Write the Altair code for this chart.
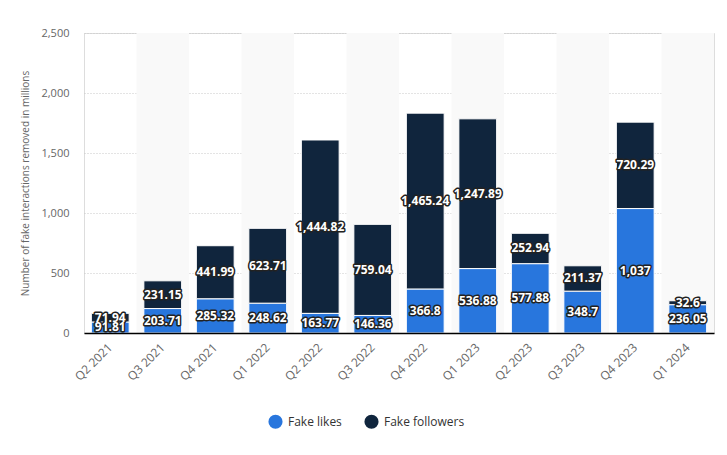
import altair as alt
import pandas as pd

quarters = ["Q2 2021", "Q3 2021", "Q4 2021", "Q1 2022", "Q2 2022", "Q3 2022",
            "Q4 2022", "Q1 2023", "Q2 2023", "Q3 2023", "Q4 2023", "Q1 2024"]
likes = [91.81, 203.71, 285.32, 248.62, 163.77, 146.36, 366.8, 536.88, 577.88, 348.7, 1037, 236.05]
followers = [71.94, 231.15, 441.99, 623.71, 1444.82, 759.04, 1465.24, 1247.89, 252.94, 211.37, 720.29, 32.6]
series = ["Fake likes", "Fake followers"]
colors = ["#2876dd", "#10253d"]

rows = []
for q, l, f in zip(quarters, likes, followers):
    rows.append({"quarter": q, "series": series[0], "value": l, "ord": 0})
    rows.append({"quarter": q, "series": series[1], "value": f, "ord": 1})
df = pd.DataFrame(rows)
bg = pd.DataFrame({"quarter": quarters[1::2]})

FONT = "Open Sans"
xscale = alt.Scale(domain=quarters, paddingInner=0, paddingOuter=0)
yscale = alt.Scale(domain=[0, 2500], nice=False, zero=True)

background = alt.Chart(bg).mark_rect(color="#f9f9f9").encode(
    x=alt.X("quarter:N", scale=xscale, sort=quarters),
    y=alt.value(0),
    y2=alt.value("height"),
)

base = alt.Chart(df).transform_stack(
    stack="value", groupby=["quarter"], as_=["v0", "v1"], sort=[alt.SortField("ord")]
).transform_calculate(mid="(datum.v0 + datum.v1) / 2")

bars = base.mark_bar(width=alt.RelativeBandSize(0.72), stroke="white", strokeWidth=1).encode(
    x=alt.X("quarter:N", scale=xscale, sort=quarters,
            axis=alt.Axis(title=None, labelAngle=-45, labelColor="#666666", labelFontSize=12,
                          labelFont=FONT, domainColor="#000000", domainWidth=1.5, ticks=False,
                          labelPadding=12)),
    y=alt.Y("v0:Q", scale=yscale,
            axis=alt.Axis(title="Number of fake interactions removed in millions",
                          titleFontSize=10, titleFont=FONT, titleColor="#666666", titleFontWeight="normal",
                          titlePadding=10,
                          values=[0, 500, 1000, 1500, 2000, 2500], format=",.0f",
                          labelColor="#666666", labelFontSize=11, labelFont=FONT, labelPadding=15,
                          domain=False, ticks=False, gridColor="#c8c8c8", gridDash=[1, 2])),
    y2="v1:Q",
    color=alt.Color("series:N", scale=alt.Scale(domain=series, range=colors),
                    legend=alt.Legend(title=None, orient="none", direction="horizontal",
                                      legendX=184, legendY=381,
                                      symbolType="circle", symbolSize=200, symbolStrokeWidth=0,
                                      labelFontSize=12, labelFont=FONT, labelColor="#333333",
                                      labelOffset=5, columnPadding=22)),
)

outline = base.mark_text(font=FONT, fontSize=12, fontWeight="bold", color="#222222",
                         stroke="#222222", strokeWidth=3, strokeJoin="round").encode(
    x=alt.X("quarter:N", scale=xscale, sort=quarters),
    y=alt.Y("mid:Q", scale=yscale),
    text=alt.Text("value:Q", format=",.2~f"),
)
labels = base.mark_text(font=FONT, fontSize=12, fontWeight="bold", color="white").encode(
    x=alt.X("quarter:N", scale=xscale, sort=quarters),
    y=alt.Y("mid:Q", scale=yscale),
    text=alt.Text("value:Q", format=",.2~f"),
)

chart = alt.layer(background, bars, outline, labels).properties(
    width=630, height=300,
    padding={"left": 12, "top": 19, "right": 5, "bottom": 5},
).configure_view(stroke=None).configure(background="white")

chart.save("out.html", embed_options={"renderer": "svg", "actions": False})
